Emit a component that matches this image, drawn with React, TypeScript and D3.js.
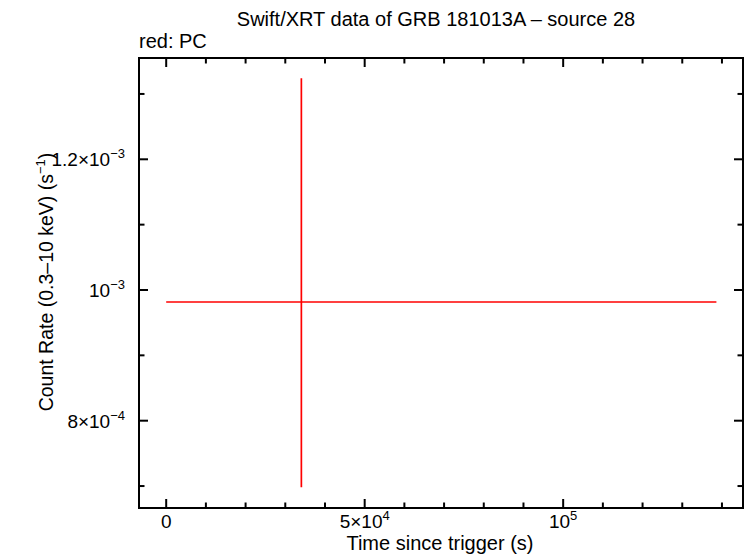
import React from "react";
import * as d3 from "d3";

const W = 746;
const H = 558;

const TITLE = "Swift/XRT data of GRB 181013A \u2013 source 28";
const SUBTITLE = "red: PC";

// data point (PC mode)
const times = [34050];
const timeLo = [0];
const timeHi = [138600];
const rates = [9.816e-4];
const rateLo = [6.98e-4];
const rateHi = [1.324e-3];

const xMajorTicks = [0, 50000, 100000];
const xMajorLabels = [
  { base: "0", sup: "" },
  { base: "5\u00d710", sup: "4" },
  { base: "10", sup: "5" },
];
const xMinorTicks = [10000, 20000, 30000, 40000, 60000, 70000, 80000, 90000, 110000, 120000, 130000, 140000];
const yMajorTicks = [8e-4, 1e-3, 1.2e-3];
const yMajorLabels = [
  { base: "8\u00d710", sup: "\u22124" },
  { base: "10", sup: "\u22123" },
  { base: "1.2\u00d710", sup: "\u22123" },
];
const yMinorTicks = [7e-4, 9e-4, 1.1e-3, 1.3e-3];

const L = 139, R = 743, T = 58, B = 508;
const FONT = "'Liberation Sans', Arial, Helvetica, sans-serif";

export default function App() {
  const x = d3.scaleLinear().domain([-6850, 145300]).range([L, R]);
  const y = d3.scaleLinear().domain([6.664e-4, 1.355e-3]).range([B, T]);
  const red = "#ff0000";
  const major = 9;
  const minor = 5.5;

  return (
    <svg width={W} height={H} style={{ position: "absolute", left: 0, top: 0, background: "#fff" }} fontFamily={FONT}>
      <rect x={0} y={0} width={W} height={H} fill="#fff" />
      <text x={436} y={26} fontSize={20} textAnchor="middle" fill="#000">{TITLE}</text>
      <text x={139} y={48} fontSize={20} fill="#000">{SUBTITLE}</text>

      {/* data */}
      {times.map((t, i) => (
        <g key={i} stroke={red} strokeWidth={1.7}>
          <line x1={x(timeLo[i])} x2={x(timeHi[i])} y1={y(rates[i])} y2={y(rates[i])} />
          <line x1={x(t)} x2={x(t)} y1={y(rateLo[i])} y2={y(rateHi[i])} />
        </g>
      ))}

      {/* ticks */}
      <g stroke="#000" strokeWidth={2}>
        {xMajorTicks.map((v) => (
          <g key={"xM" + v}>
            <line x1={x(v)} x2={x(v)} y1={B} y2={B - major} />
            <line x1={x(v)} x2={x(v)} y1={T} y2={T + major} />
          </g>
        ))}
        {xMinorTicks.map((v) => (
          <g key={"xm" + v}>
            <line x1={x(v)} x2={x(v)} y1={B} y2={B - minor} />
            <line x1={x(v)} x2={x(v)} y1={T} y2={T + minor} />
          </g>
        ))}
        {yMajorTicks.map((v) => (
          <g key={"yM" + v}>
            <line x1={L} x2={L + major} y1={y(v)} y2={y(v)} />
            <line x1={R} x2={R - major} y1={y(v)} y2={y(v)} />
          </g>
        ))}
        {yMinorTicks.map((v) => (
          <g key={"ym" + v}>
            <line x1={L} x2={L + minor} y1={y(v)} y2={y(v)} />
            <line x1={R} x2={R - minor} y1={y(v)} y2={y(v)} />
          </g>
        ))}
        <rect x={L} y={T} width={R - L} height={B - T} fill="none" />
      </g>

      {/* tick labels */}
      {xMajorTicks.map((v, i) => (
        <text key={"xl" + v} x={x(v)} y={528} fontSize={19} textAnchor="middle" fill="#000">
          {xMajorLabels[i].base}
          {xMajorLabels[i].sup && (
            <tspan fontSize={13} dy={-8}>{xMajorLabels[i].sup}</tspan>
          )}
        </text>
      ))}
      {yMajorTicks.map((v, i) => (
        <text key={"yl" + v} x={125} y={y(v) + 7} fontSize={19} textAnchor="end" fill="#000">
          {yMajorLabels[i].base}
          <tspan fontSize={13} dy={-8}>{yMajorLabels[i].sup}</tspan>
        </text>
      ))}

      {/* axis titles */}
      <text x={440} y={550} fontSize={20} textAnchor="middle" fill="#000">Time since trigger (s)</text>
      <text transform="translate(53,282) rotate(-90)" fontSize={19.5} textAnchor="middle" fill="#000">
        Count Rate (0.3{"\u2013"}10 keV) (s<tspan fontSize={13} dy={-8}>{"\u22121"}</tspan><tspan dy={8}>)</tspan>
      </text>
    </svg>
  );
}
